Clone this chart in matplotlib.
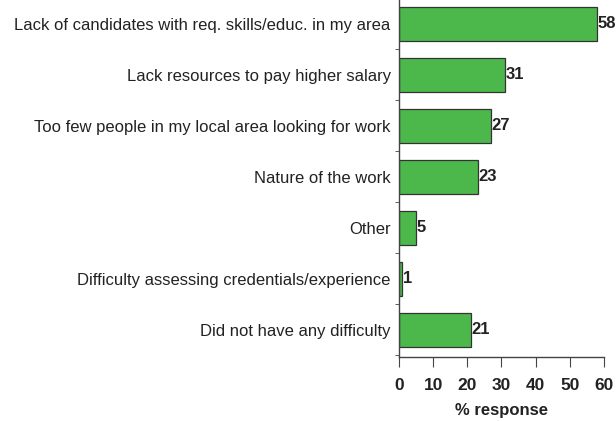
import matplotlib.pyplot as plt
import numpy as np

plt.rcParams['font.family'] = ['Liberation Sans', 'DejaVu Sans']

# survey answers, top to bottom
reasons = [
    "Lack of candidates with req. skills/educ. in my area",
    "Lack resources to pay higher salary",
    "Too few people in my local area looking for work",
    "Nature of the work",
    "Other",
    "Difficulty assessing credentials/experience",
    "Did not have any difficulty",
]
pct = [58, 31, 27, 23, 5, 1, 21]
xticks = [0, 10, 20, 30, 40, 50, 60]

fig = plt.figure(figsize=(6.16, 4.21), dpi=100)
ax = fig.add_axes([0.6477, 0.1520, 0.3328, 0.8480])

y = np.arange(len(reasons))
ax.barh(y, pct, height=0.65, color="#4cb84c", edgecolor="#333333", linewidth=0.9)

for yi, v in zip(y, pct):
    ax.text(v + 0.1, yi, str(v), va="center", ha="left",
            fontsize=12, fontweight="bold", color="#222222")

ax.set_ylim(len(reasons) - 0.47, -0.47)
ax.set_xlim(0, 60)

ax.set_yticks(y)
ax.set_yticklabels(reasons, fontsize=12, color="#222222")
ax.tick_params(axis="y", which="major", length=0, pad=6)
ax.set_yticks(np.arange(len(reasons)) + 0.5, minor=True)
ax.tick_params(axis="y", which="minor", length=3, direction="out", color="#444444")

ax.set_xticks(xticks)
ax.set_xticklabels([str(t) for t in xticks], fontsize=12.5, fontweight="bold", color="#222222")
ax.tick_params(axis="x", length=7, direction="out", color="#444444", pad=8)
ax.set_xlabel("% response", fontsize=12, fontweight="bold", color="#222222", labelpad=7)

for s in ["top", "right"]:
    ax.spines[s].set_visible(False)
for s in ["left", "bottom"]:
    ax.spines[s].set_color("#444444")
    ax.spines[s].set_linewidth(1.0)

fig.savefig("out.png", dpi=100)
